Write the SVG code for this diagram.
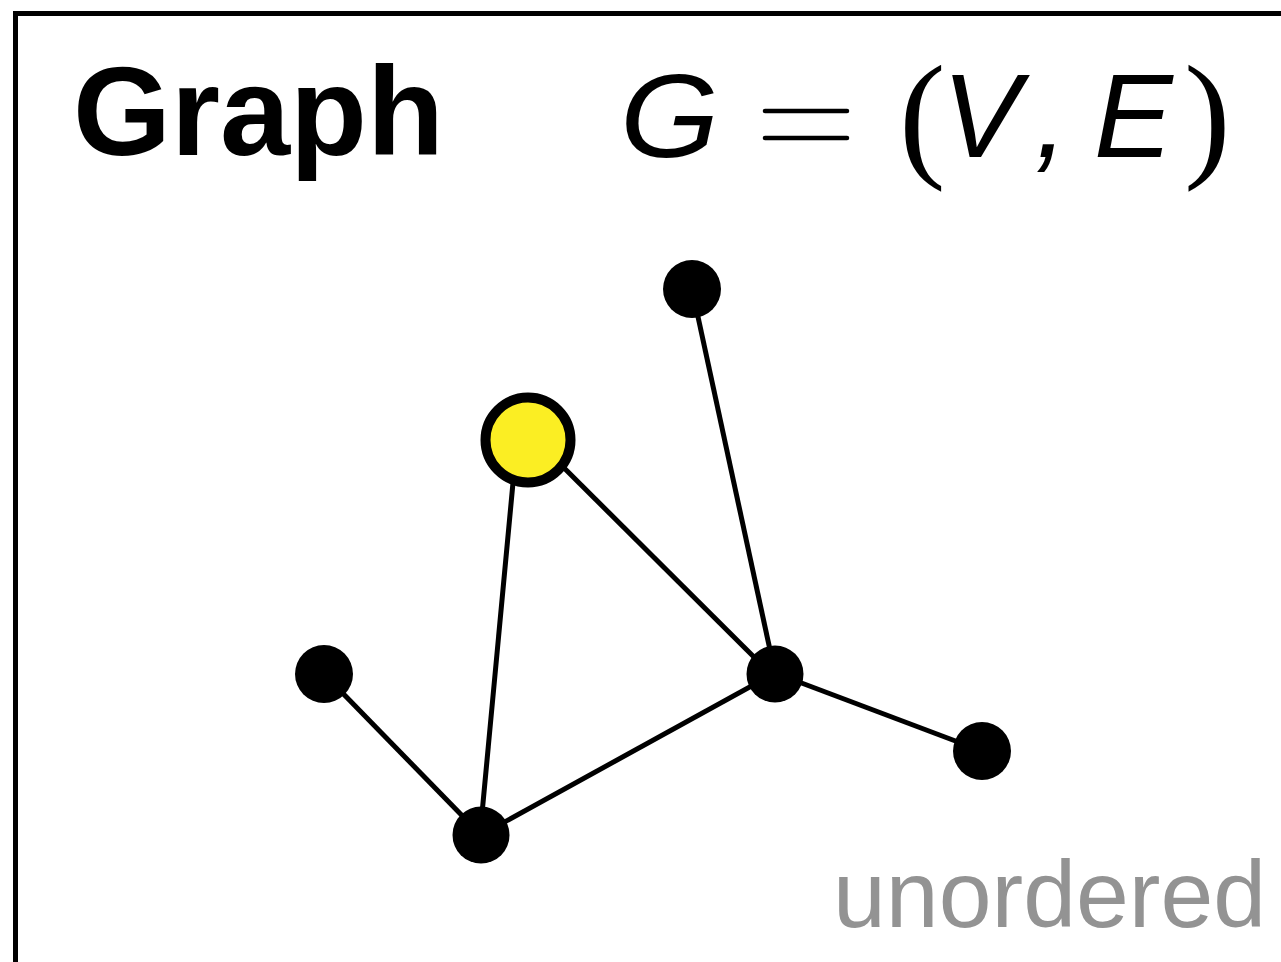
<svg xmlns="http://www.w3.org/2000/svg" width="1281" height="962" viewBox="0 0 1281 962">
<style>
.edge{stroke:#000;stroke-width:5;fill:none}
.node{fill:#000}
.math{font-family:"Liberation Sans",Arial,sans-serif;font-style:italic;font-size:118px;fill:#000}
.paren{font-family:"Liberation Serif","Times New Roman",serif;font-size:140px;fill:#000}
</style>
<rect x="15.5" y="13.5" width="1300" height="1000" fill="#fff" stroke="#000" stroke-width="5"/>
<text x="73" y="155" font-family="Liberation Sans,Arial,sans-serif" font-weight="bold" font-size="126">Graph</text>
<g id="formula">
<text class="math" x="620" y="157" transform="translate(620 0) scale(1.08 1) translate(-620 0)">G</text>
<g stroke="#000" stroke-width="4.5" stroke-linecap="round"><line x1="765" y1="111" x2="847" y2="111"/><line x1="765" y1="138" x2="847" y2="138"/></g>
<text class="paren" x="899" y="162">(</text>
<text class="math" x="942" y="157">V</text>
<text class="math" x="1035" y="157">,</text>
<text class="math" x="1094" y="157">E</text>
<text class="paren" x="1184" y="162">)</text>
</g>
<g id="edges">
<line class="edge" x1="692" y1="289" x2="775" y2="673"/>
<line class="edge" x1="536" y1="440" x2="770" y2="673"/>
<line class="edge" x1="517" y1="440" x2="480" y2="835"/>
<line class="edge" x1="324" y1="674" x2="481" y2="835"/>
<line class="edge" x1="481" y1="835" x2="775" y2="673"/>
<line class="edge" x1="775" y1="673" x2="982" y2="751"/>
</g>
<g id="n1"><circle class="node" cx="692" cy="289" r="29"/></g>
<g id="n2"><circle cx="528" cy="440" r="42.5" fill="#fbee23" stroke="#000" stroke-width="10"/></g>
<g id="n3"><circle class="node" cx="324" cy="674" r="29"/></g>
<g id="n4"><circle class="node" cx="775" cy="674" r="28.5"/></g>
<g id="n5"><circle class="node" cx="982" cy="751" r="29"/></g>
<g id="n6"><circle class="node" cx="481" cy="835" r="28.5"/></g>
<text x="833" y="927" font-family="Liberation Sans,Arial,sans-serif" font-size="95" fill="#939393">unordered</text>
</svg>
